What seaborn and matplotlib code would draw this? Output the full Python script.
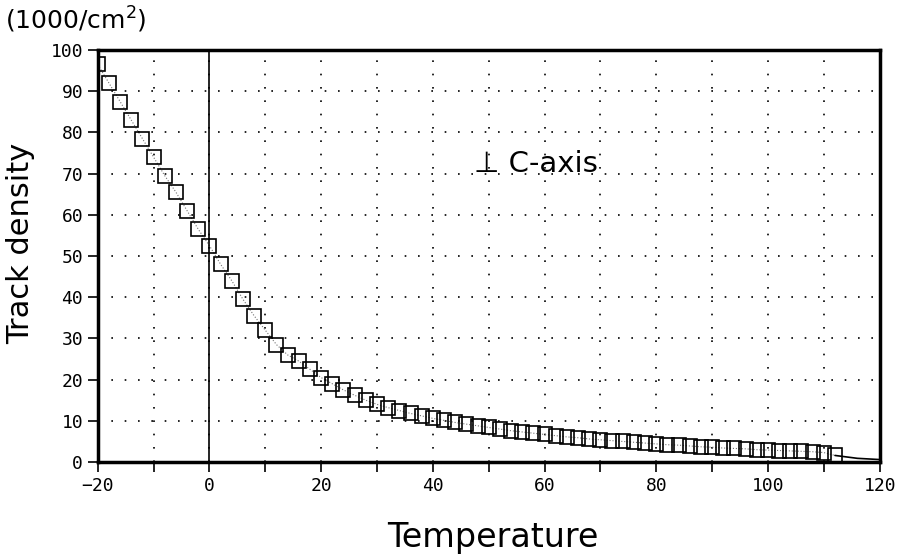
import numpy as np
import pandas as pd
import matplotlib
matplotlib.use("Agg")
import matplotlib.pyplot as plt
import seaborn as sns

# Valores (temperatura em graus, densidade em 1000/cm2)
temperatura = [-20, -18, -16, -14, -12, -10, -8, -6, -4, -2,
               0, 2, 4, 6, 8, 10, 12, 14, 16, 18,
               20, 22, 24, 26, 28, 30, 32, 34, 36, 38,
               40, 42, 44, 46, 48, 50, 52, 54, 56, 58,
               60, 62, 64, 66, 68, 70, 72, 74, 76, 78,
               80, 82, 84, 86, 88, 90, 92, 94, 96, 98,
               100, 102, 104, 106, 108, 110, 112]
densidade = [96.5, 92.0, 87.5, 83.0, 78.5, 74.0, 69.5, 65.5, 61.0, 56.5,
             52.5, 48.0, 44.0, 39.5, 35.5, 32.0, 28.5, 26.0, 24.5, 22.5,
             20.5, 19.0, 17.5, 16.2, 15.0, 14.0, 13.2, 12.5, 11.8, 11.2,
             10.6, 10.1, 9.6, 9.2, 8.8, 8.4, 8.0, 7.6, 7.3, 7.0,
             6.7, 6.4, 6.1, 5.9, 5.6, 5.4, 5.2, 5.0, 4.8, 4.6,
             4.4, 4.2, 4.1, 3.9, 3.7, 3.6, 3.4, 3.3, 3.2, 3.0,
             2.9, 2.8, 2.7, 2.6, 2.5, 2.3, 1.6]

# Cauda final da curva (sem marcadores)
temp_cauda = [112, 116, 120]
dens_cauda = [1.6, 0.9, 0.6]

x_ticks = [-20, 0, 20, 40, 60, 80, 100, 120]
y_ticks = [0, 10, 20, 30, 40, 50, 60, 70, 80, 90, 100]

df = pd.DataFrame({"Temperatura": temperatura, "Densidade": densidade})

sns.set_style("white")
plt.rcParams["font.family"] = ["DejaVu Sans"]
plt.rcParams["text.color"] = "black"
plt.rcParams["axes.labelcolor"] = "black"

fig = plt.figure(figsize=(9.05, 5.56), dpi=100)
ax = fig.add_axes([0.108, 0.169, 0.864, 0.741])

# Curva com quadrados vazados
sns.lineplot(data=df, x="Temperatura", y="Densidade", ax=ax, color="0.45",
             linewidth=0.8, linestyle=":", marker="s", markersize=10,
             markerfacecolor="none", markeredgecolor="black", markeredgewidth=1.2)
sns.lineplot(x=temp_cauda, y=dens_cauda, ax=ax, color="black", linewidth=1.2)

ax.set_xlim(-20, 120)
ax.set_ylim(0, 100)

# Grade pontilhada a cada 10 unidades
ax.set_xticks(np.arange(-20, 121, 10), minor=True)
ax.set_xticks(x_ticks)
ax.set_yticks(y_ticks)
ax.grid(True, which="both", color="black", linestyle=(0, (1, 7)), linewidth=1.2)
ax.axvline(0, color="black", linewidth=1.2)

ax.tick_params(axis="both", which="both", direction="out", length=7, width=1.2,
               colors="black", labelsize=13, bottom=True, left=True)
for lab in ax.get_xticklabels() + ax.get_yticklabels():
    lab.set_family("DejaVu Sans Mono")

for s in ax.spines.values():
    s.set_linewidth(2.5)
    s.set_color("black")

ax.set_xlabel("Temperature", fontsize=24, color="black")
ax.set_ylabel("Track density", fontsize=22, color="black")
ax.xaxis.set_label_coords(0.505, -0.143)
ax.yaxis.set_label_coords(-0.08, 0.53)

ax.text(47.4, 72.3, "\u22a5 C-axis", fontsize=21, ha="left", va="center", color="black")
fig.text(0.005, 0.965, "(1000/cm$^2$)", fontsize=18, ha="left", va="center", color="black")

fig.savefig("out.png", dpi=100)
